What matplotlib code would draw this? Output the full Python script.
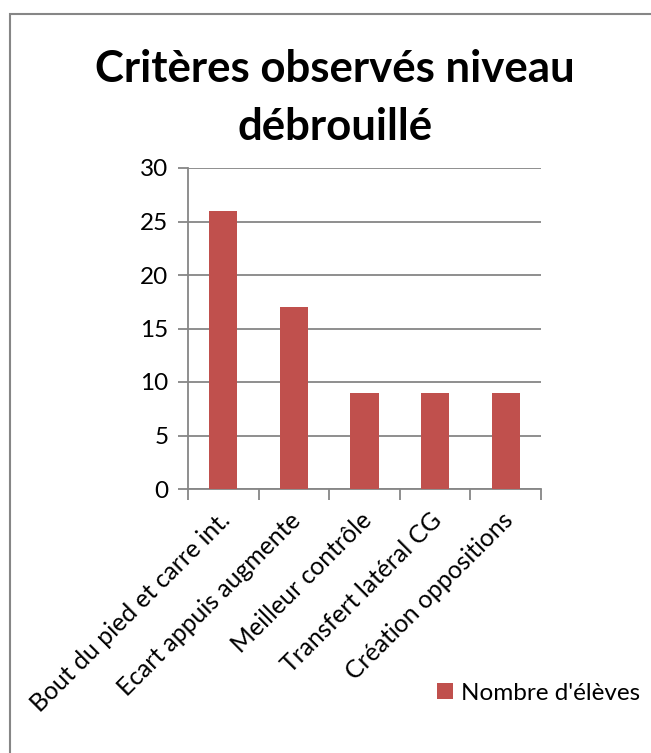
import matplotlib.pyplot as plt
import matplotlib.patches as patches
import matplotlib.transforms as mtransforms
import numpy as np

categories = ["Bout du pied et carre int.", "Ecart appuis augmente",
              "Meilleur contrôle", "Transfert latéral CG", "Création oppositions"]
values = [26, 17, 9, 9, 9]
series_name = "Nombre d'élèves"
title_lines = ["Critères observés niveau", "débrouillé"]

bar_color = '#C0504D'
grid_color = '#868686'
plt.rcParams['font.family'] = ['Lato', 'DejaVu Sans']

W, H = 651, 753
fig = plt.figure(figsize=(W/100, H/100), dpi=100)
ax = fig.add_axes([188/W, 1-489/H, (541-188)/W, (489-168)/H])

x = np.arange(len(categories))
ax.bar(x, values, width=0.4, color=bar_color, label=series_name, zorder=3)

ax.set_xlim(-0.5, len(categories) - 0.5)
ax.set_ylim(0, 30)
ax.set_yticks(range(0, 31, 5))
ax.yaxis.grid(True, color=grid_color, linewidth=1.3, zorder=0)

for s in ['top', 'right']:
    ax.spines[s].set_visible(False)
for s in ['left', 'bottom']:
    ax.spines[s].set_color(grid_color)
    ax.spines[s].set_linewidth(1.3)

ax.tick_params(axis='y', length=7, width=1.3, color=grid_color, labelsize=17.5, pad=7)
ax.set_xticks(x)
ax.set_xticks(np.arange(-0.5, len(categories), 1), minor=True)
ax.tick_params(axis='x', which='major', length=0, labelsize=17.8, pad=14)
ax.tick_params(axis='x', which='minor', length=8, width=1.3, color=grid_color)
ax.set_xticklabels(categories, rotation=45, ha='right', va='top', rotation_mode='anchor')

# nudge the rotated labels a little to the left, like Excel does
offset = mtransforms.ScaledTranslation(-0.05, 0, fig.dpi_scale_trans)
for lbl in ax.get_xticklabels():
    lbl.set_transform(lbl.get_transform() + offset)

fig.text(335/W, 1-82/H, title_lines[0], ha='center', va='baseline', fontsize=31.5,
         fontweight='bold')
fig.text(335/W, 1-140/H, title_lines[1], ha='center', va='baseline', fontsize=31.5,
         fontweight='bold')

fig.legend(loc='center left', bbox_to_anchor=(415/W, 1-693/H), frameon=False,
           fontsize=17.5, handlelength=0.65, handleheight=0.65, handletextpad=0.35)

border = patches.Rectangle((10/W, -0.1), 1.2, (H-14)/H + 0.1,
                           transform=fig.transFigure, fill=False,
                           edgecolor=grid_color, linewidth=1.5, clip_on=False)
fig.patches.append(border)

plt.savefig("out.png", dpi=100)
